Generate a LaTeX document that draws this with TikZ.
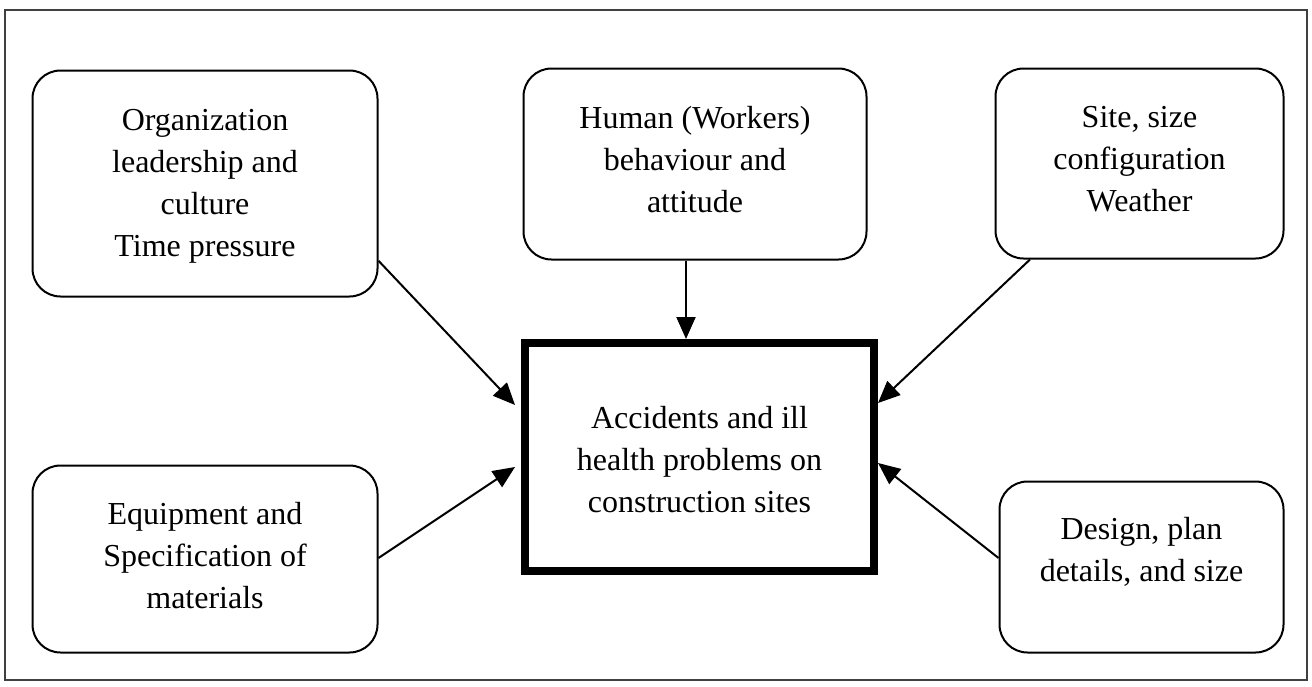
\documentclass[tikz,border=0pt]{standalone}
\usepackage{fontspec}
\setmainfont{Liberation Serif}
\usetikzlibrary{arrows.meta}
\begin{document}
\begin{tikzpicture}[x=1pt,y=-1pt,
  fbox/.style={draw=black, line width=2pt, rounded corners=28pt, inner sep=0pt,
    align=center, font=\fontsize{32}{42}\selectfont},
  mainbox/.style={draw=black, line width=8pt, inner sep=0pt,
    align=center, font=\fontsize{32}{42}\selectfont},
  arr/.style={draw=black, line width=2pt, -{Triangle[length=22pt,width=19pt]}}]
\useasboundingbox (0,0) rectangle (1312,686);
\draw[line width=1.5pt, black!75] (5,10) rectangle (1307,680);

\node[fbox, minimum width=345pt, minimum height=226pt] (org) at (205,183.5)
  {\rule{0pt}{26pt}Organization\\leadership and\\culture\\Time pressure};
\node[fbox, minimum width=343pt, minimum height=191pt, text depth=10pt] (hum) at (695,164)
  {Human (Workers)\\behaviour and\\attitude};
\node[fbox, minimum width=288pt, minimum height=190pt, text depth=10pt] (site) at (1139.5,163.5)
  {Site, size\\configuration\\Weather};
\node[fbox, minimum width=345pt, minimum height=187pt, text depth=8pt] (equip) at (205,559)
  {Equipment and\\Specification of\\materials};
\node[fbox, minimum width=284pt, minimum height=171pt, text depth=35pt] (design) at (1141.5,567)
  {Design, plan\\details, and size};
\node[mainbox, minimum width=349pt, minimum height=228pt] (acc) at (699.5,457)
  {\rule{0pt}{28pt}Accidents and ill\\health problems on\\construction sites};

\draw[arr] (org.-24) -- ([xshift=-6pt,yshift=52pt]acc.west);
\draw[arr] ([xshift=-9pt]hum.south) -- ([xshift=-9pt]hum.south |- acc.north);
\draw[arr] ([xshift=-109.5pt]site.south) -- ([yshift=54pt]acc.east);
\draw[arr] ([yshift=1pt]equip.east) -- ([xshift=-6pt,yshift=-10pt]acc.west);
\draw[arr] ([yshift=9pt]design.west) -- ([yshift=-6pt]acc.east);
\end{tikzpicture}
\end{document}
